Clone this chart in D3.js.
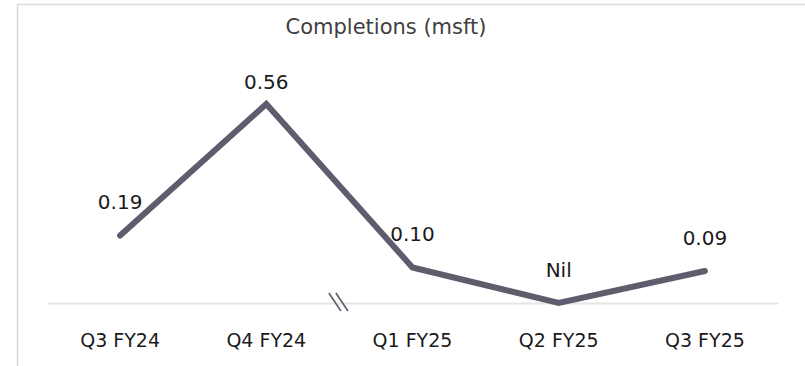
<!DOCTYPE html>
<html>
<head>
<meta charset="utf-8">
<script src="https://cdn.jsdelivr.net/npm/d3@7/dist/d3.min.js"></script>
<style>
  html, body { margin: 0; padding: 0; background: #fff; }
  svg { display: block; }
  text { font-family: "DejaVu Sans", "Open Sans", sans-serif; }
</style>
</head>
<body>
<svg id="chart" width="805" height="366"></svg>
<script>
// Quarterly completions, million sq ft
const quarters = ["Q3 FY24", "Q4 FY24", "Q1 FY25", "Q2 FY25", "Q3 FY25"];
const completions = [0.19, 0.56, 0.10, 0, 0.09];
const valueLabels = ["0.19", "0.56", "0.10", "Nil", "0.09"];
const chartTitle = "Completions (msft)";
// axis break drawn between these two quarters
const breakBetween = ["Q4 FY24", "Q1 FY25"];

const W = 805, H = 366;
const svg = d3.select("#chart");

const x = d3.scaleBand().domain(quarters).range([47, 778]);
const y = d3.scaleLinear().domain([0, 0.56]).range([303, 104]);
const cx = q => x(q) + x.bandwidth() / 2;
const plotTop = 89; // labels never rise above this baseline

// frame
svg.append("path")
  .attr("d", `M17.5,${H} V4.5 H${W}`)
  .attr("fill", "none")
  .attr("stroke", "#d9d9d9")
  .attr("stroke-width", 1.5);

// title
svg.append("text")
  .attr("x", 386).attr("y", 34)
  .attr("text-anchor", "middle")
  .attr("font-size", 21)
  .attr("fill", "#404040")
  .text(chartTitle);

// category axis
const xAxis = svg.append("g")
  .attr("transform", `translate(0,${y(0)})`)
  .call(d3.axisBottom(x).tickSize(0));
xAxis.select(".domain").attr("stroke", "#e6e6e6").attr("stroke-width", 2);
xAxis.selectAll("text")
  .attr("y", 44)
  .attr("dy", null)
  .attr("font-size", 19)
  .attr("fill", "#1a1a1a")
  .style("font-family", "'DejaVu Sans', sans-serif");

// line
const line = d3.line()
  .x((d, i) => cx(quarters[i]))
  .y(d => y(d));
svg.append("path")
  .datum(completions)
  .attr("d", line)
  .attr("fill", "none")
  .attr("stroke", "#5f5c6d")
  .attr("stroke-width", 6)
  .attr("stroke-linejoin", "miter")
  .attr("stroke-linecap", "round");

// value labels
svg.append("g").selectAll("text")
  .data(completions)
  .join("text")
  .attr("x", (d, i) => cx(quarters[i]))
  .attr("y", d => Math.max(y(d) - 26, plotTop))
  .attr("text-anchor", "middle")
  .attr("font-size", 20)
  .attr("fill", "#1a1a1a")
  .text((d, i) => valueLabels[i]);

// axis break marks
const bx = (cx(breakBetween[0]) + cx(breakBetween[1])) / 2 - 1;
const by = y(0);
svg.append("g")
  .selectAll("line")
  .data([-3.5, 3.5])
  .join("line")
  .attr("x1", d => bx + d - 6).attr("y1", by - 10)
  .attr("x2", d => bx + d + 6).attr("y2", by + 8)
  .attr("stroke", "#5f5c6d")
  .attr("stroke-width", 1.6);
</script>
</body>
</html>
